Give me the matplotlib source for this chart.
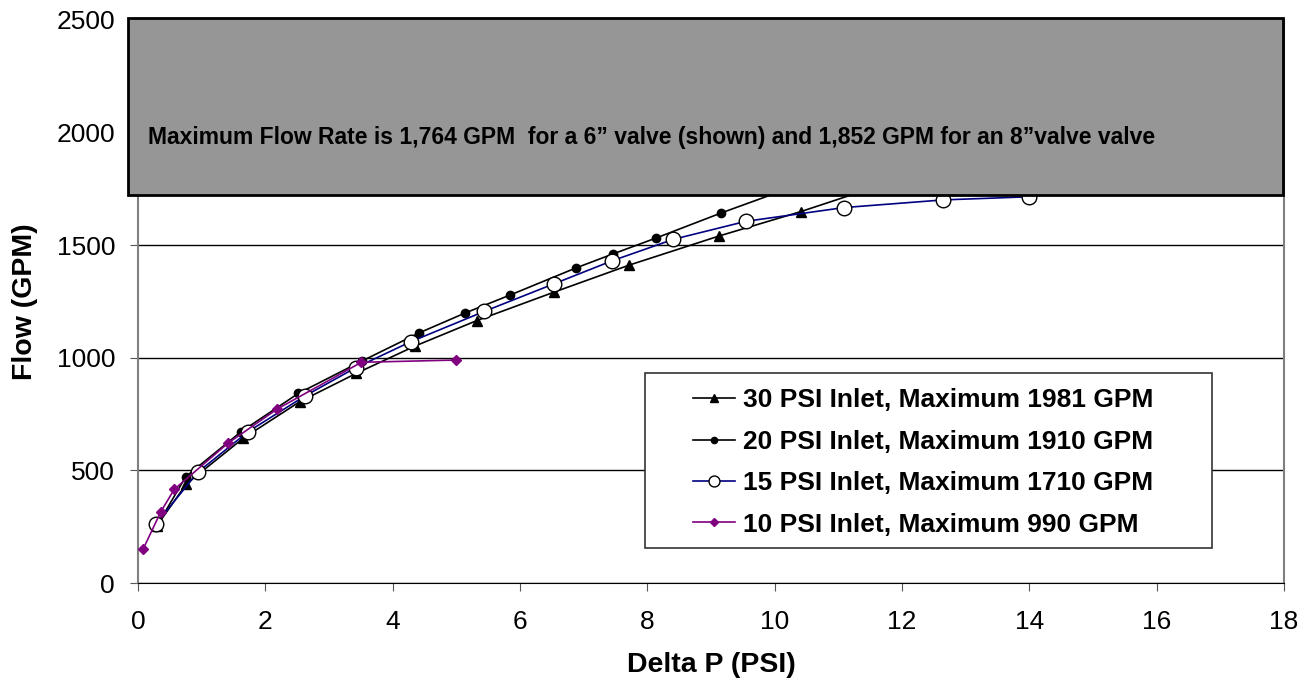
import matplotlib.pyplot as plt
from matplotlib.patches import Rectangle

plt.rcParams['font.family'] = ['Liberation Sans', 'DejaVu Sans']

# 30 PSI inlet (filled triangles)
dp_30 = [0.30, 0.76, 1.65, 2.54, 3.43, 4.35, 5.32, 6.53, 7.72, 9.13, 10.41, 11.6, 12.6]
flow_30 = [255, 440, 642, 805, 931, 1052, 1165, 1291, 1412, 1541, 1649, 1760, 1840]

# 20 PSI inlet (filled circles)
dp_20 = [0.30, 0.75, 1.62, 2.52, 3.52, 4.42, 5.14, 5.84, 6.88, 7.46, 8.14, 9.16, 10.3, 11.5]
flow_20 = [255, 472, 672, 842, 986, 1111, 1199, 1278, 1399, 1461, 1532, 1643, 1760, 1880]

# 15 PSI inlet (open circles)
dp_15 = [0.28, 0.94, 1.73, 2.62, 3.42, 4.29, 5.44, 6.53, 7.45, 8.41, 9.55, 11.09, 12.65, 14.0]
flow_15 = [262, 492, 672, 830, 956, 1072, 1206, 1328, 1431, 1526, 1606, 1667, 1701, 1715]

# 10 PSI inlet (diamonds)
dp_10 = [0.08, 0.36, 0.57, 1.41, 2.19, 3.51, 5.0]
flow_10 = [150, 317, 416, 620, 773, 980, 990]

labels = ['30 PSI Inlet, Maximum 1981 GPM',
          '20 PSI Inlet, Maximum 1910 GPM',
          '15 PSI Inlet, Maximum 1710 GPM',
          '10 PSI Inlet, Maximum 990 GPM']

note = ('Maximum Flow Rate is 1,764 GPM  for a 6\u201d valve (shown) '
        'and 1,852 GPM for an 8\u201dvalve valve')

fig = plt.figure(figsize=(13.09, 6.88), dpi=100)
ax = fig.add_axes([0.1054, 0.1526, 0.8755, 0.8184])

ax.plot(dp_30, flow_30, color='black', lw=1.2, marker='^', ms=7,
        mfc='black', mec='black', label=labels[0], zorder=3)
ax.plot(dp_20, flow_20, color='black', lw=1.2, marker='o', ms=6,
        mfc='black', mec='black', label=labels[1], zorder=3)
ax.plot(dp_15, flow_15, color='#000080', lw=1.2, marker='o', ms=10.5,
        mfc='white', mec='black', label=labels[2], zorder=4)
ax.plot(dp_10, flow_10, color='#800080', lw=1.2, marker='D', ms=5.5,
        mfc='#800080', mec='#800080', label=labels[3], zorder=5)

ax.set_xlim(0, 18)
ax.set_ylim(0, 2500)
ax.set_xticks(range(0, 19, 2))
ax.set_yticks(range(0, 2501, 500))
ax.tick_params(labelsize=19, length=5.5, color='#555555', direction='out')
ax.tick_params(axis='x', pad=14)
ax.tick_params(axis='y', pad=11)
ax.yaxis.grid(True, color='black', lw=1)
ax.set_axisbelow(True)
for s in ['left', 'right']:
    ax.spines[s].set_color('#808080')
    ax.spines[s].set_linewidth(1.5)
ax.spines['top'].set_visible(False)
ax.spines['bottom'].set_color('black')

ax.set_xlabel('Delta P (PSI)', fontsize=20.5, fontweight='bold', labelpad=13)
ax.set_ylabel('Flow (GPM)', fontsize=20.5, fontweight='bold', labelpad=13)

# legend frame drawn separately so the padding matches the original
ax.add_patch(Rectangle((0.4424, 0.0622), 0.4948, 0.3108, transform=ax.transAxes,
                       facecolor='white', edgecolor='#333333', lw=1.2, zorder=9))
leg = ax.legend(loc='center left', bbox_to_anchor=(0.4843, 0.214),
                prop={'weight': 'bold', 'size': 19}, frameon=False,
                handlelength=1.6, handletextpad=0.3, borderaxespad=0,
                borderpad=0, labelspacing=0.66, markerscale=0.75)
leg.set_zorder(10)

box = Rectangle((0.0978, 0.7166), 0.8823, 0.2573, transform=fig.transFigure,
                facecolor='#969696', edgecolor='black', lw=2, zorder=20)
fig.patches.append(box)
fig.text(0.113, 0.800, note, fontsize=16.5, fontweight='bold',
         va='center', ha='left', zorder=21)

fig.savefig('out.png', dpi=100)
